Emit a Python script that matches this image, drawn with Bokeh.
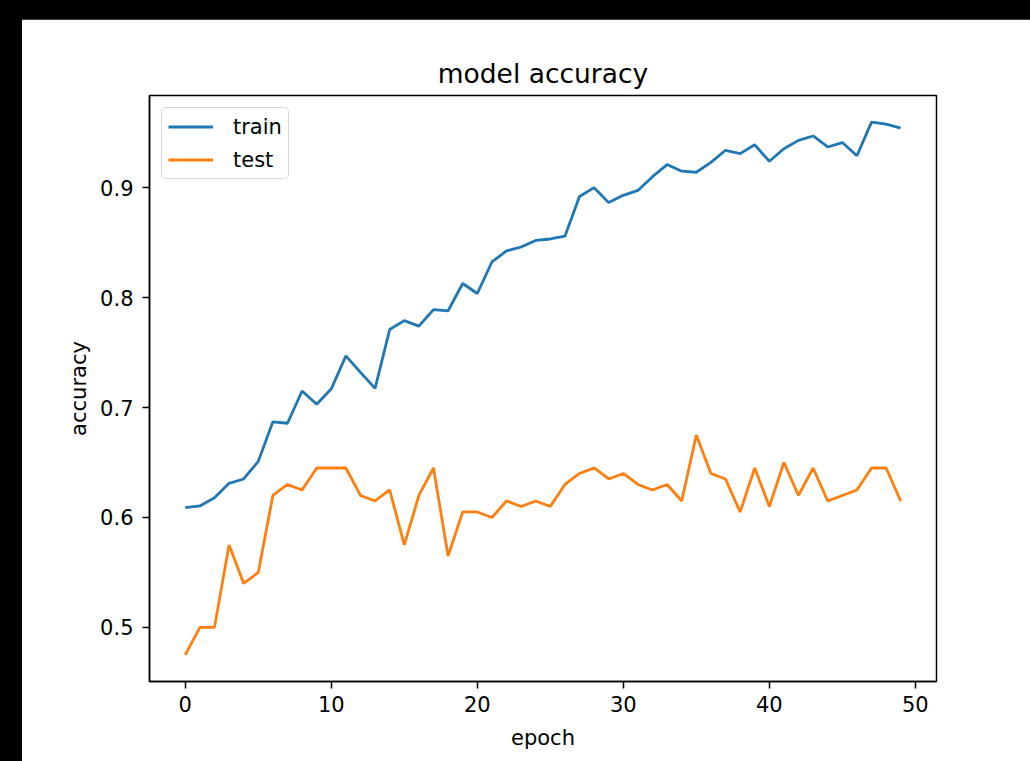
from bokeh.plotting import figure
from bokeh.models import Range1d, FixedTicker, Legend, LegendItem, Spacer
from bokeh.layouts import column, row
from bokeh.embed import file_html
from bokeh.resources import INLINE

epochs = list(range(50))
train_acc = [0.609, 0.6105, 0.618, 0.631, 0.635, 0.651, 0.687, 0.6857, 0.715, 0.703,
             0.717, 0.747, 0.732, 0.7174, 0.771, 0.779, 0.774, 0.789, 0.788, 0.8128,
             0.8037, 0.8324, 0.8424, 0.846, 0.852, 0.8533, 0.8558, 0.892, 0.900, 0.8864,
             0.893, 0.8975, 0.910, 0.921, 0.915, 0.914, 0.923, 0.934, 0.931, 0.939,
             0.924, 0.9354, 0.943, 0.947, 0.937, 0.941, 0.929, 0.9596, 0.9578, 0.9541]
test_acc = [0.475, 0.500, 0.500, 0.575, 0.540, 0.550, 0.620, 0.630, 0.625, 0.645,
            0.645, 0.645, 0.620, 0.615, 0.625, 0.575, 0.620, 0.645, 0.565, 0.605,
            0.605, 0.600, 0.615, 0.610, 0.615, 0.610, 0.630, 0.640, 0.645, 0.635,
            0.640, 0.630, 0.625, 0.630, 0.615, 0.675, 0.640, 0.635, 0.605, 0.645,
            0.610, 0.650, 0.620, 0.645, 0.615, 0.620, 0.625, 0.645, 0.645, 0.615]
x_ticks = [0, 10, 20, 30, 40, 50]
y_ticks = [0.5, 0.6, 0.7, 0.8, 0.9]
title_text = "model accuracy"
x_label = "epoch"
y_label = "accuracy"
series_names = ["train", "test"]
series_colors = ["#1f77b4", "#ff7f0e"]

FONT = "DejaVu Sans"

# matplotlib-like 5% margins
xmin, xmax = min(epochs), max(epochs)
xpad = (xmax - xmin) * 0.05
all_y = train_acc + test_acc
ymin, ymax = min(all_y), max(all_y)
ypad = (ymax - ymin) * 0.05

p = figure(width=1008, height=741, output_backend="svg", toolbar_location=None,
           x_range=Range1d(xmin - xpad, xmax + xpad),
           y_range=Range1d(ymin - ypad, ymax + ypad),
           min_border_left=127, min_border_right=94, min_border_top=76, min_border_bottom=79,
           title=title_text)

p.background_fill_color = "white"
p.border_fill_color = "white"
p.outline_line_color = "black"
p.outline_line_width = 1.5
p.xgrid.visible = False
p.ygrid.visible = False

p.title.text_font = FONT
p.title.text_font_size = "26.5px"
p.title.text_font_style = "normal"
p.title.text_color = "black"
p.title.align = "center"
p.title.standoff = 14

for ax in (p.xaxis[0], p.yaxis[0]):
    ax.axis_line_color = "black"
    ax.axis_line_width = 1.5
    ax.major_tick_line_color = "black"
    ax.major_tick_line_width = 1.5
    ax.major_tick_out = 7
    ax.major_tick_in = 0
    ax.minor_tick_line_color = None
    ax.major_label_text_font = FONT
    ax.major_label_text_font_size = "21px"
    ax.major_label_text_color = "black"
    ax.axis_label_text_font = FONT
    ax.axis_label_text_font_size = "21px"
    ax.axis_label_text_font_style = "normal"
    ax.axis_label_text_color = "black"

p.xaxis[0].ticker = FixedTicker(ticks=x_ticks)
p.yaxis[0].ticker = FixedTicker(ticks=y_ticks)
p.xaxis[0].axis_label = x_label
p.yaxis[0].axis_label = y_label
p.xaxis[0].major_label_standoff = 7
p.yaxis[0].major_label_standoff = 9
p.xaxis[0].axis_label_standoff = 11
p.yaxis[0].axis_label_standoff = 6

r_train = p.line(epochs, train_acc, line_color=series_colors[0], line_width=2.8)
r_test = p.line(epochs, test_acc, line_color=series_colors[1], line_width=2.8)

legend = Legend(items=[LegendItem(label=series_names[0], renderers=[r_train]),
                       LegendItem(label=series_names[1], renderers=[r_test])],
                location="top_left")
legend.margin = 12
legend.padding = 6
legend.spacing = 8
legend.glyph_width = 45
legend.glyph_height = 25
legend.label_standoff = 20
legend.label_text_font = FONT
legend.label_text_font_size = "21px"
legend.label_text_color = "black"
legend.border_line_color = "#cccccc"
legend.border_line_width = 1.5
legend.border_line_alpha = 0.8
legend.background_fill_alpha = 0.8
legend.border_radius = 5
p.add_layout(legend)

page = column(Spacer(height=19, width=1030), row(Spacer(width=22, height=741), p), spacing=0)

html = file_html(page, INLINE)
css = ("<style>html { overflow: hidden; background-color: #ffffff; "
       "background-image: linear-gradient(#000000, #000000), linear-gradient(#000000, #000000); "
       "background-size: 22px 3000px, 3000px 20px; background-repeat: no-repeat, no-repeat; "
       "background-position: 0 0, 0 0; }</style>\n</head>")
html = html.replace("</head>", css, 1)
open("out.html", "w").write(html)
